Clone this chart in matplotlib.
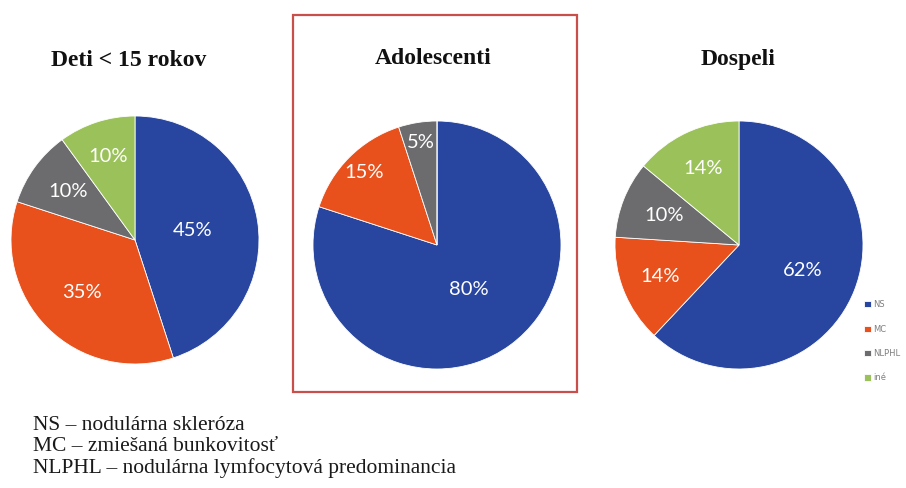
import matplotlib
matplotlib.use("Agg")
import matplotlib.pyplot as plt
from matplotlib.patches import Rectangle
import numpy as np

# ---- data ----
categories = ["NS", "MC", "NLPHL", "iné"]
titles = ["Deti < 15 rokov", "Adolescenti", "Dospeli"]
deti = [45, 35, 10, 10]
adolescenti = [80, 15, 5, 0]
dospeli = [62, 14, 10, 14]
notes = ["NS \u2013 nodulárna skleróza",
         "MC \u2013 zmiešaná bunkovitosť",
         "NLPHL \u2013 nodulárna lymfocytová predominancia"]

colors = ["#28469F", "#E8501C", "#6C6C6E", "#9BC25A"]

W, H = 906, 488
fig = plt.figure(figsize=(W / 100, H / 100), dpi=100)
ax = fig.add_axes([0, 0, 1, 1])

def py(y):
    return H - y

# layout (pixel coords)
centers = [(135, 240), (437, 245), (739, 245)]
radius = 124
label_dist = [[0.47, 0.60, 0.67, 0.71],
              [0.44, 0.83, 0.84, 0.8],
              [0.55, 0.68, 0.65, 0.68]]
title_pos = [(129, 60), (433, 58), (738, 60)]

all_values = [deti, adolescenti, dospeli]
wedges3 = None
for i, vals in enumerate(all_values):
    cx, cy = centers[i]
    wedges, texts, autotexts = ax.pie(
        vals, colors=colors, startangle=90, counterclock=False,
        center=(cx, py(cy)), radius=radius,
        autopct=lambda p: "%d%%" % round(p),
        wedgeprops=dict(edgecolor="white", linewidth=0.6),
        textprops=dict(color="white", fontsize=14.5, family="Lato"))
    total = float(sum(vals))
    cum = 0.0
    for j, (v, at) in enumerate(zip(vals, autotexts)):
        mid = 90 - (cum + v / 2) / total * 360
        cum += v
        if v == 0:
            at.set_visible(False)
            continue
        d = label_dist[i][j] * radius
        at.set_position((cx + d * np.cos(np.radians(mid)),
                         py(cy) + d * np.sin(np.radians(mid))))
    if i == 2:
        wedges3 = wedges
    tx, ty = title_pos[i]
    ax.text(tx, py(ty), titles[i], ha="center", va="center",
            fontsize=17, fontweight="bold", family="Liberation Serif",
            color="#111111")

# red frame around the middle chart
ax.add_patch(Rectangle((293, py(392)), 577 - 293, 392 - 15, fill=False,
                       edgecolor="#C9504A", linewidth=1.6))

# legend
leg = ax.legend(wedges3, categories, loc="upper left",
                bbox_to_anchor=(860 / W, 1 - 296 / H),
                bbox_transform=fig.transFigure,
                frameon=False, fontsize=6, handlelength=0.8,
                handleheight=0.8, handletextpad=0.3, labelspacing=1.85,
                borderpad=0)
for t in leg.get_texts():
    t.set_color("#7f7f7f")

# notes
for k, line in enumerate(notes):
    ax.text(33, py(425 + 21.5 * k), line, ha="left", va="center",
            fontsize=15.5, family="Liberation Serif", color="#1a1a1a")

ax.set_xlim(0, W)
ax.set_ylim(0, H)
ax.set_aspect("equal")
ax.axis("off")

fig.savefig("out.png", dpi=100, facecolor="white")
